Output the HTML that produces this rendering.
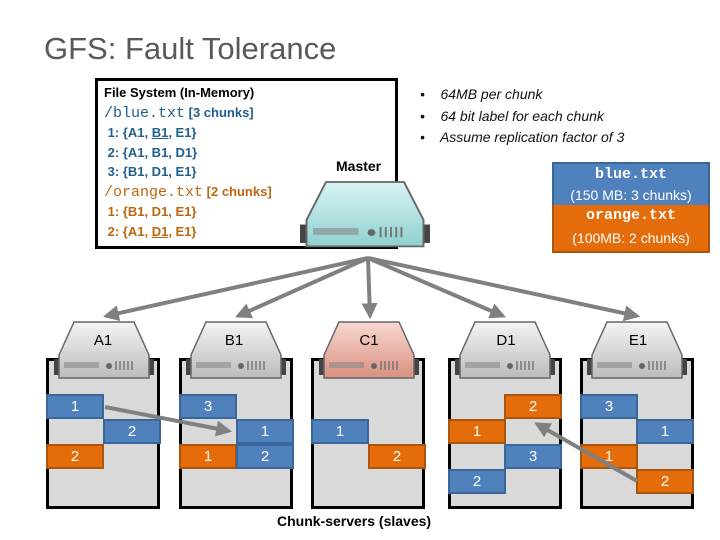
<!DOCTYPE html>
<html><head><style>
body{margin:0;width:720px;height:540px;background:#fff;position:relative;overflow:hidden;font-family:"Liberation Sans",sans-serif}
.a{position:absolute}
.col{position:absolute;top:358px;width:108px;height:145px;background:#d9d9d9;border:3px solid #000}
.b{position:absolute;width:54px;height:21px;border:2px solid;color:#fff;font-size:15px;text-align:center;line-height:21px}
.bl{background:#4f81bd;border-color:#3a669a}
.or{background:#e46c0a;border-color:#a9550e}
.mono{font-family:"Liberation Mono",monospace}
</style></head><body>
<div class="a" style="left:44px;top:31px;font-size:31px;color:#595959">GFS: Fault Tolerance</div>
<div class="a" style="left:95px;top:78px;width:297px;height:165px;border:3px solid #000"></div>
<div class="a" style="left:104px;top:83px;font-size:13px;line-height:19.5px;font-weight:bold">
<div>File System (In-Memory)</div>
<div style="color:#1f5f8f"><span class="mono" style="font-weight:normal;font-size:15px">/blue.txt</span> [3 chunks]</div>
<div style="color:#1f5f8f">&nbsp;1: {A1, <u>B1</u>, E1}</div>
<div style="color:#1f5f8f">&nbsp;2: {A1, B1, D1}</div>
<div style="color:#1f5f8f">&nbsp;3: {B1, D1, E1}</div>
<div style="color:#c0650f"><span class="mono" style="font-weight:normal;font-size:15px">/orange.txt</span> [2 chunks]</div>
<div style="color:#c0650f">&nbsp;1: {B1, D1, E1}</div>
<div style="color:#c0650f">&nbsp;2: {A1, <u>D1</u>, E1}</div>
</div>
<div class="a" style="left:336px;top:158px;font-size:14px;font-weight:bold">Master</div>
<div class="a" style="left:420px;top:84px;font-size:14px;font-style:italic;line-height:21.5px;color:#111">
<div>•&nbsp;&nbsp;&nbsp; 64MB per chunk</div><div>•&nbsp;&nbsp;&nbsp; 64 bit label for each chunk</div><div>•&nbsp;&nbsp;&nbsp; Assume replication factor of 3</div></div>
<div class="a" style="left:552px;top:162px;width:154px;height:42px;background:#4f81bd;border:2px solid #3a669a;border-bottom:none;color:#fff;text-align:center;font-size:14px;line-height:21px"><div class="mono" style="font-weight:bold;font-size:15px">blue.txt</div>(150 MB: 3 chunks)</div>
<div class="a" style="left:552px;top:205px;width:154px;height:46px;background:#e46c0a;border:2px solid #a9550e;border-top:none;color:#fff;text-align:center;font-size:14px;line-height:22px"><div class="mono" style="font-weight:bold;font-size:15px">orange.txt</div>(100MB: 2 chunks)</div>

<div class="col" style="left:46px"></div>
<div class="col" style="left:179px"></div>
<div class="col" style="left:311px"></div>
<div class="col" style="left:448px"></div>
<div class="col" style="left:580px"></div>

<div class="b bl" style="left:46px;top:394px">1</div>
<div class="b bl" style="left:103px;top:419px">2</div>
<div class="b or" style="left:46px;top:444px">2</div>
<div class="b bl" style="left:179px;top:394px">3</div>
<div class="b bl" style="left:236px;top:419px">1</div>
<div class="b or" style="left:179px;top:444px">1</div>
<div class="b bl" style="left:236px;top:444px">2</div>
<div class="b bl" style="left:311px;top:419px">1</div>
<div class="b or" style="left:368px;top:444px">2</div>
<div class="b or" style="left:504px;top:394px">2</div>
<div class="b or" style="left:448px;top:419px">1</div>
<div class="b bl" style="left:504px;top:444px">3</div>
<div class="b bl" style="left:448px;top:469px">2</div>
<div class="b bl" style="left:580px;top:394px">3</div>
<div class="b bl" style="left:636px;top:419px">1</div>
<div class="b or" style="left:580px;top:444px">1</div>
<div class="b or" style="left:636px;top:469px">2</div>

<svg class="a" style="left:0;top:0" width="720" height="540">
<defs>
<marker id="m" markerWidth="4" markerHeight="4" refX="3.2" refY="2" orient="auto"><path d="M0,0 L4,2 L0,4 z" fill="#808080"/></marker>
<linearGradient id="g" x1="0" y1="0" x2="0" y2="1"><stop offset="0" stop-color="#f4f4f4"/><stop offset="1" stop-color="#bcbcbc"/></linearGradient>
<linearGradient id="gm" x1="0" y1="0" x2="0" y2="1"><stop offset="0" stop-color="#d8f3f3"/><stop offset="1" stop-color="#8fd0d0"/></linearGradient>
<linearGradient id="gr" x1="0" y1="0" x2="0" y2="1"><stop offset="0" stop-color="#f8d8d0"/><stop offset="1" stop-color="#d99080"/></linearGradient>
<g id="srv">
<rect x="-50" y="37" width="100" height="16" fill="#444"/>
<path d="M-30,0 L30,0 L45,33 L45,56 L-45,56 L-45,33 Z" stroke="#666" stroke-width="1.5"/>
<rect x="-40" y="40" width="35" height="6" fill="#888" opacity=".6"/>
<circle cx="5" cy="44" r="3" fill="#666"/>
<path d="M12,39v9M16,39v9M20,39v9M24,39v9M28,39v9" stroke="#777" stroke-width="1.5"/>
</g>
</defs>
<g stroke="#808080" stroke-width="4" fill="none" marker-end="url(#m)">
<line x1="368" y1="258" x2="106" y2="316"/>
<line x1="368" y1="258" x2="238" y2="316"/>
<line x1="368" y1="258" x2="370" y2="316"/>
<line x1="368" y1="258" x2="503" y2="316"/>
<line x1="368" y1="258" x2="637" y2="316"/>
<line x1="105" y1="407" x2="229" y2="431"/>
<line x1="637" y1="481" x2="537" y2="424"/>
</g>
<use href="#srv" x="104" y="322" fill="url(#g)"/>
<use href="#srv" x="236" y="322" fill="url(#g)"/>
<use href="#srv" x="369" y="322" fill="url(#gr)"/>
<use href="#srv" x="505" y="322" fill="url(#g)"/>
<use href="#srv" x="637" y="322" fill="url(#g)"/>
<g transform="translate(365,182) scale(1.3,1.15)" fill="url(#gm)"><use href="#srv"/></g>
<g font-family="Liberation Sans" font-size="15" text-anchor="middle" fill="#000">
<text x="103" y="345">A1</text><text x="234" y="345">B1</text><text x="369" y="345">C1</text><text x="506" y="345">D1</text><text x="638" y="345">E1</text>
</g>
</svg>
<div class="a" style="left:277px;top:513px;font-size:14px;font-weight:bold">Chunk-servers (slaves)</div>
</body></html>
